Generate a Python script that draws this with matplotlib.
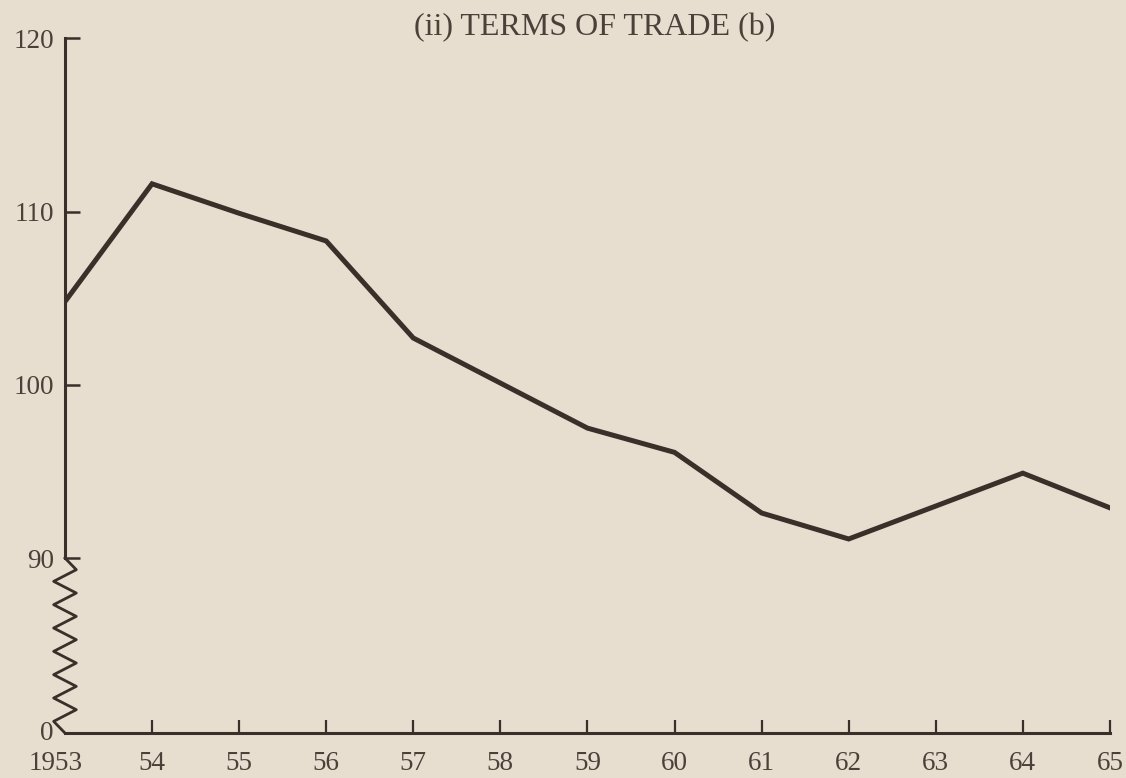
import matplotlib.pyplot as plt
import matplotlib.transforms as mtransforms
import numpy as np

# data
years = [1953, 1954, 1955, 1956, 1957, 1958, 1959, 1960, 1961, 1962, 1963, 1964, 1965]
terms = [104.8, 111.6, 109.9, 108.3, 102.7, 100.1, 97.5, 96.1, 92.6, 91.1, 93.0, 94.9, 92.9]
x_labels = ['1953', '54', '55', '56', '57', '58', '59', '60', '61', '62', '63', '64', '65']
y_ticks = [90, 100, 110, 120]
title = '(ii) TERMS OF TRADE (b)'

paper = '#e7ded0'
ink = '#3b2f29'
text_col = '#4b4139'
y_bottom = 79.9   # where the "0" of the broken axis sits

plt.rcParams['font.family'] = ['Liberation Serif', 'DejaVu Serif']

fig = plt.figure(figsize=(11.26, 7.78), dpi=100, facecolor=paper)
ax = fig.add_axes([0.0577, 0.0578, 0.928, 0.893])
ax.set_facecolor(paper)

ax.plot(years, terms, color=ink, lw=3.6, solid_joinstyle='miter', zorder=3)

ax.set_xlim(years[0], years[-1])
ax.set_ylim(y_bottom, 120)

for s in ['top', 'right', 'left']:
    ax.spines[s].set_visible(False)
ax.spines['bottom'].set_color(ink)
ax.spines['bottom'].set_linewidth(2.2)

# left axis: straight from 90 to 120, zigzag below the break
ax.plot([years[0], years[0]], [90, 120], color=ink, lw=2.2, clip_on=False, zorder=4)
n = 15
zy = np.linspace(90, y_bottom, n + 1)
w = 0.13
zx = [years[0]] + [years[0] + (w if i % 2 else -w) for i in range(1, n)] + [years[0]]
ax.plot(zx, zy, color=ink, lw=2.0, clip_on=False, zorder=4)

ax.set_xticks(years)
ax.set_xticklabels(x_labels)
ax.set_yticks([y_bottom] + y_ticks)
ax.set_yticklabels(['0'] + [str(v) for v in y_ticks])

ax.tick_params(axis='x', direction='in', length=9.5, width=1.6, color=ink,
               labelsize=19.5, labelcolor=text_col, pad=13)
ax.tick_params(axis='y', direction='in', length=10.5, width=1.8, color=ink,
               labelsize=19.5, labelcolor=text_col, pad=8)
ax.xaxis.get_major_ticks()[0].tick1line.set_visible(False)
ax.yaxis.get_major_ticks()[0].tick1line.set_visible(False)

# "1953" sits a little left of the axis corner, "0" just above it
lab = ax.get_xticklabels()[0]
lab.set_transform(lab.get_transform() + mtransforms.ScaledTranslation(-9 / 100, 0, fig.dpi_scale_trans))
lab0 = ax.get_yticklabels()[0]
lab0.set_transform(lab0.get_transform() + mtransforms.ScaledTranslation(0, 3 / 100, fig.dpi_scale_trans))

fig.text(0.528, 0.965, title, ha='center', va='center', fontsize=23, color=text_col)

fig.savefig('out.png', dpi=100, facecolor=paper)
